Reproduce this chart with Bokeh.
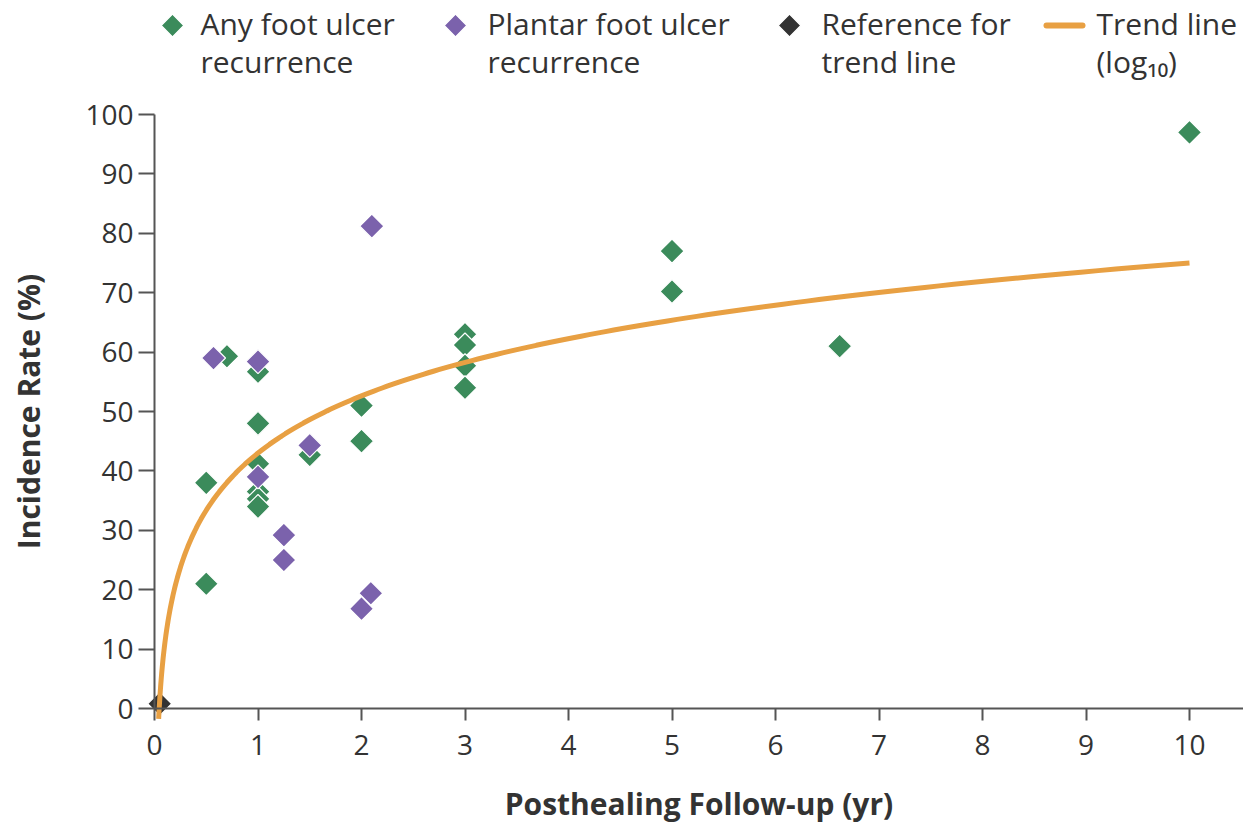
import numpy as np
from bokeh.plotting import figure
from bokeh.models import Range1d, FixedTicker
from bokeh.core.properties import value
from bokeh.embed import file_html
from bokeh.resources import INLINE

# Recurrence incidence by length of post-healing follow-up
any_x = [0.5, 0.5, 0.7, 1.0, 1.0, 1.0, 1.0, 1.0, 1.0, 1.5, 2.0, 2.0,
         3.0, 3.0, 3.0, 3.0, 5.0, 5.0, 6.62, 10.0]
any_y = [21.0, 38.0, 59.3, 56.7, 48.0, 41.2, 36.5, 35.3, 34.0, 42.7, 51.0, 45.0,
         63.0, 61.2, 57.7, 54.0, 77.0, 70.2, 61.0, 97.0]

plantar_x = [0.57, 1.0, 1.0, 1.25, 1.25, 1.5, 2.0, 2.09, 2.1]
plantar_y = [59.0, 58.4, 39.0, 29.2, 25.0, 44.3, 16.8, 19.4, 81.2]

ref_x = [0.05]
ref_y = [0.8]

# Logarithmic trend: rate = intercept + slope * log10(years)
trend_intercept = 43.0
trend_slope = 32.0
trend_span = (0.04, 10.0)

x_ticks = list(range(0, 11))
y_ticks = list(range(0, 101, 10))

key_labels = [("Any foot ulcer", "recurrence"),
              ("Plantar foot ulcer", "recurrence"),
              ("Reference for", "trend line"),
              ("Trend line", "(log\u2081\u2080)")]

GREEN = "#3b8b5b"
PURPLE = "#7b62ac"
DARK = "#333333"
ORANGE = "#e8a043"
AXIS = "#555555"
FONT = "Open Sans"

W, H = 1243, 826
# pixel position of the origin and pixels per unit on each axis
X0_PX, X_SCALE = 154.0, 103.5
Y0_PX, Y_SCALE = 708.0, 5.94


def px_x(px):
    return (px - X0_PX) / X_SCALE


def px_y(py):
    return (Y0_PX - py) / Y_SCALE


x_range = Range1d(px_x(0), px_x(W))
y_range = Range1d(px_y(H), px_y(0))

p = figure(width=W, height=H, x_range=x_range, y_range=y_range,
           output_backend="svg", toolbar_location=None,
           min_border=0)
p.outline_line_color = None
p.grid.visible = False
p.background_fill_color = "white"

marker_style = dict(marker="square", angle=np.pi / 4,
                    line_color="white", line_width=1.2)

p.scatter(any_x, any_y, size=17, fill_color=GREEN, **marker_style)
p.scatter(plantar_x, plantar_y, size=17, fill_color=PURPLE, **marker_style)
p.scatter(ref_x, ref_y, size=17, fill_color=DARK, **marker_style)

tx = np.geomspace(trend_span[0], trend_span[1], 300)
ty = trend_intercept + trend_slope * np.log10(tx)
p.line(tx, ty, line_color=ORANGE, line_width=5)

# Axes cross at the origin
p.xaxis.fixed_location = 0
p.yaxis.fixed_location = 0
p.xaxis.bounds = (0, x_range.end)
p.yaxis.bounds = (0, 100)
p.xaxis.ticker = FixedTicker(ticks=x_ticks)
p.yaxis.ticker = FixedTicker(ticks=y_ticks)

for ax in (p.xaxis[0], p.yaxis[0]):
    ax.axis_line_color = AXIS
    ax.axis_line_width = 2
    ax.major_tick_line_color = AXIS
    ax.major_tick_line_width = 2
    ax.major_tick_in = 0
    ax.minor_tick_line_color = None
    ax.major_label_text_font = FONT
    ax.major_label_text_font_size = "28px"
    ax.major_label_text_color = DARK
    ax.axis_label_text_font = FONT
    ax.axis_label_text_font_style = "bold"
    ax.axis_label_text_color = DARK

p.xaxis.major_tick_out = 12
p.xaxis.major_label_standoff = 14
p.xaxis.axis_label = "Posthealing Follow-up (yr)"
p.xaxis.axis_label_text_font_size = "30px"
p.xaxis.axis_label_standoff = 25

p.yaxis.major_tick_out = 16
p.yaxis.major_label_standoff = 5
p.yaxis.axis_label = "Incidence Rate (%)"
p.yaxis.axis_label_text_font_size = "30px"
p.yaxis.axis_label_standoff = 33

# Key across the top: marker centre x (px), text start x (px)
KEY_MARK_X = [172, 455, 789, 1064]
KEY_TEXT_X = [200, 487, 821, 1096]
KEY_ROW_Y = 25            # centre of the key symbols (px)
KEY_BASELINES = (23, 61)  # vertical anchors of the two label lines (px)

p.scatter([px_x(KEY_MARK_X[0])], [px_y(KEY_ROW_Y)], size=16, fill_color=GREEN, **marker_style)
p.scatter([px_x(KEY_MARK_X[1])], [px_y(KEY_ROW_Y)], size=16, fill_color=PURPLE, **marker_style)
p.scatter([px_x(KEY_MARK_X[2])], [px_y(KEY_ROW_Y)], size=16, fill_color=DARK, **marker_style)
p.line([px_x(KEY_MARK_X[3] - 18), px_x(KEY_MARK_X[3] + 18)], [px_y(KEY_ROW_Y)] * 2,
       line_color=ORANGE, line_width=6, line_cap="round")

txt_x, txt_y, txt = [], [], []
for (first, second), tx0 in zip(key_labels, KEY_TEXT_X):
    for line, base in zip((first, second), KEY_BASELINES):
        txt_x.append(px_x(tx0))
        txt_y.append(px_y(base))
        txt.append(line)
p.text(txt_x, txt_y, text=txt, text_font=value(FONT), text_font_size="30px",
       text_color=DARK, text_baseline="alphabetic", text_align="left")

open("out.html", "w").write(file_html(p, INLINE))
